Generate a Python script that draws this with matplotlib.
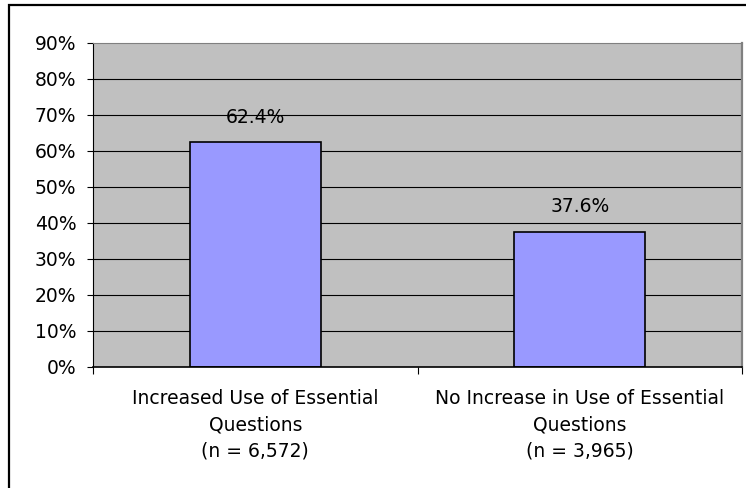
import numpy as np
import matplotlib.pyplot as plt
from matplotlib.patches import Rectangle
from matplotlib.ticker import FuncFormatter

# survey results: share of respondents per group
categories = ['Increased Use of Essential\nQuestions\n(n = 6,572)',
              'No Increase in Use of Essential\nQuestions\n(n = 3,965)']
values = [62.4, 37.6]
value_labels = ['62.4%', '37.6%']
yticks = [0, 10, 20, 30, 40, 50, 60, 70, 80, 90]

plt.rcParams['font.family'] = ['DejaVu Sans']
fs = 13.5

fig = plt.figure(figsize=(7.46, 4.88), dpi=100)
ax = fig.add_axes([93/746, 1 - 367/488, 649/746, 324/488])
ax.set_facecolor('#C0C0C0')

x = np.arange(len(values))
ax.set_axisbelow(True)
for v in yticks[1:-1]:
    ax.axhline(v, color='black', lw=0.8, zorder=0.5)

bars = ax.bar(x, values, width=0.405, color='#9999FF', edgecolor='black', lw=1.2, zorder=2)
for b, lab in zip(bars, value_labels):
    ax.annotate(lab, (b.get_x() + b.get_width()/2, b.get_height()),
                xytext=(0, 18), textcoords='offset points',
                ha='center', va='center', fontsize=fs)

ax.set_xlim(-0.5, 1.5)
ax.set_ylim(0, 90)
ax.set_yticks(yticks)
ax.yaxis.set_major_formatter(FuncFormatter(lambda v, p: f'{v:.0f}%'))
ax.tick_params(axis='y', direction='out', length=4, width=0.8, pad=8, labelsize=fs)

ax.set_xticks(x)
ax.set_xticklabels(categories, fontsize=fs, linespacing=1.47)
ax.set_xticks([-0.5, 0.5, 1.5], minor=True)
ax.tick_params(axis='x', which='major', length=0, pad=16)
ax.tick_params(axis='x', which='minor', direction='out', length=5, width=0.8)

ax.spines['left'].set_color('black')
ax.spines['bottom'].set_color('black')
ax.spines['bottom'].set_linewidth(1.2)
ax.spines['top'].set_color('#808080')
ax.spines['right'].set_color('#808080')
ax.spines['right'].set_linewidth(1.6)

# chart frame, only the top and left edges fall inside the image
fig.patches.append(Rectangle((9/746, -0.2), 1.2, 1.2 - 5/488,
                             transform=fig.transFigure, fill=False,
                             edgecolor='black', lw=1.6))

fig.savefig('out.png', dpi=100, facecolor='white')
